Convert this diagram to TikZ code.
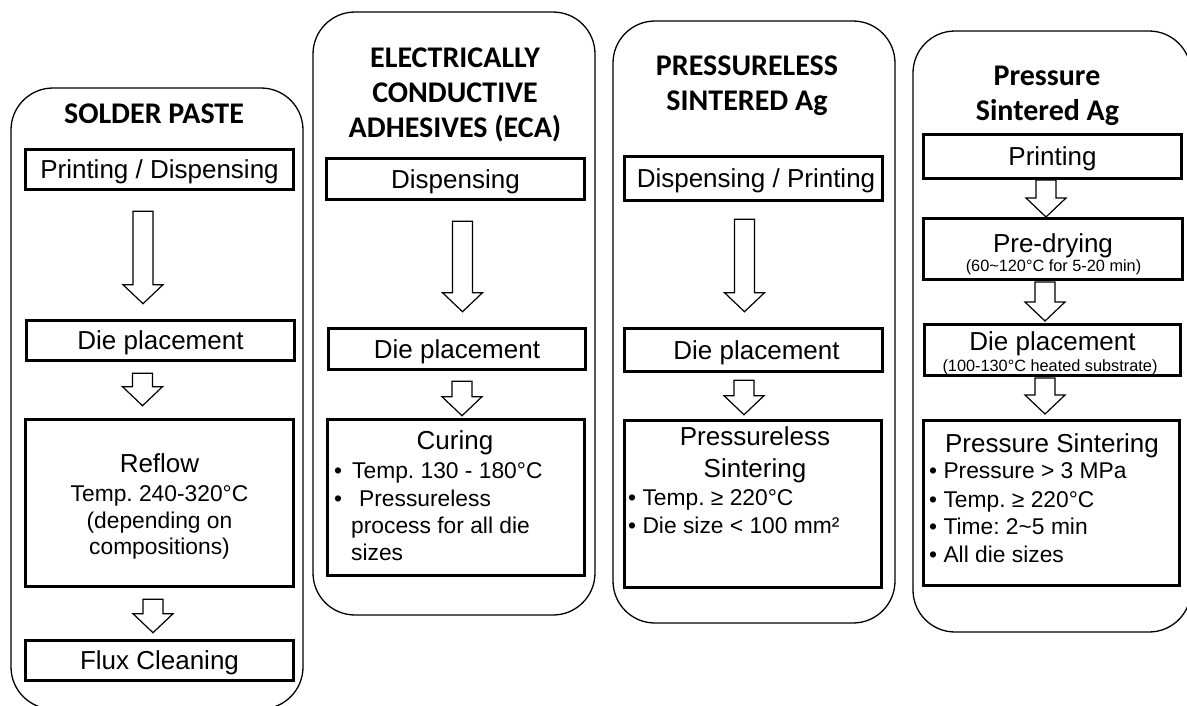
\documentclass[tikz,border=0pt]{standalone}
\usepackage{fontspec}
\setmainfont{Liberation Sans}
\newfontfamily\titlefont{Carlito}
\usetikzlibrary{calc}
\frenchspacing
\newcommand\fmain{\fontsize{26pt}{30pt}\selectfont}
\newcommand\fsub{\fontsize{22.8pt}{27pt}\selectfont}
\newcommand\fsmall{\fontsize{16.3pt}{19pt}\selectfont}
\newcommand\ftitle{\titlefont\bfseries\fontsize{30pt}{35pt}\selectfont}
\newcommand\blockarr[5]{%
  \draw[barrow] let \p1=(#1.south), \p2=(#2.north) in
  (#3pt-10pt,\y1-#4pt) -- (#3pt+10pt,\y1-#4pt) -- (#3pt+10pt,\y2+#5pt+19pt)
  -- (#3pt+20pt,\y2+#5pt+19pt) -- (#3pt,\y2+#5pt) -- (#3pt-20pt,\y2+#5pt+19pt)
  -- (#3pt-10pt,\y2+#5pt+19pt) -- cycle;}
\tikzset{
  outer/.style={draw=black, line width=1.3pt, rounded corners=42pt},
  stepbox/.style={draw=black, line width=2.6pt, inner sep=0pt, text height=18.6pt, text depth=0pt, font=\fmain},
  txt/.style={inner sep=0pt, anchor=base},
  ltxt/.style={inner sep=0pt, anchor=base west},
  barrow/.style={draw=black, line width=1.2pt, fill=white, line join=miter},
}
\begin{document}
\begin{tikzpicture}[x=1pt,y=-1pt]
\useasboundingbox (0,0) rectangle (1187,705);
\clip (0,0) rectangle (1187,705);
% outer frames
\draw[outer] (11,88) rectangle (303,709);
\draw[outer] (313,12) rectangle (595,615);
\draw[outer] (613,21) rectangle (895,623);
\draw[outer] (913,31) rectangle (1191,632);

% ---------- Column 1 ----------
\node[txt, font=\ftitle] (t1) at (154,123) {SOLDER PASTE};
\node[stepbox, minimum width=268.4pt, minimum height=40.4pt] (c1b1) at (159.5,169.5) {Printing / Dispensing};
\node[stepbox, minimum width=268.4pt, minimum height=40.4pt] (c1b2) at (160.5,340.5) {Die placement};
\node[stepbox, minimum width=268.4pt, minimum height=167.4pt] (c1b3) at (159.5,503) {};
\node[txt, font=\fmain] (c1r1) at (159.5,472) {Reflow};
\node[txt, font=\fsub] (c1r2) at (159.5,501) {Temp. 240-320°C};
\node[txt, font=\fsub] (c1r3) at (159.5,528) {(depending on};
\node[txt, font=\fsub] (c1r4) at (159.5,554) {compositions)};
\node[stepbox, minimum width=268.4pt, minimum height=40.4pt] (c1b4) at (159.5,660.5) {Flux Cleaning};
\blockarr{c1b1}{c1b2}{143}{20.3}{15.3}
\blockarr{c1b2}{c1b3}{142.5}{11.3}{12.3}
\blockarr{c1b3}{c1b4}{153}{11.3}{6.3}

% ---------- Column 2 ----------
\node[txt, font=\ftitle] (t2a) at (455,67) {ELECTRICALLY};
\node[txt, font=\ftitle] (t2b) at (455,102) {CONDUCTIVE};
\node[txt, font=\ftitle] (t2c) at (455,137) {ADHESIVES (ECA)};
\node[stepbox, minimum width=258.4pt, minimum height=41.4pt] (c2b1) at (455.5,179) {Dispensing};
\node[stepbox, minimum width=257.4pt, minimum height=41.4pt] (c2b2) at (457,349) {Die placement};
\node[stepbox, minimum width=257.4pt, minimum height=156.4pt] (c2b3) at (456,497.5) {};
\node[txt, font=\fmain] (c2c1) at (455,449) {Curing};
\node[ltxt, font=\fsub] (c2c2) at (334,478) {•\hspace{10pt}Temp. 130 - 180°C};
\node[ltxt, font=\fsub] (c2c3) at (334,506) {•\hspace{17pt}Pressureless};
\node[ltxt, font=\fsub] (c2c4) at (351,533) {process for all die};
\node[ltxt, font=\fsub] (c2c5) at (351,560) {sizes};
\blockarr{c2b1}{c2b2}{462.5}{20.3}{15.3}
\blockarr{c2b2}{c2b3}{462}{10.3}{2.3}

% ---------- Column 3 ----------
\node[txt, font=\ftitle] (t3a) at (747,75) {PRESSURELESS};
\node[txt, font=\ftitle] (t3b) at (747,110) {SINTERED Ag};
\node[stepbox, minimum width=258.4pt, minimum height=44.4pt] (c3b1) at (753.5,178.5) {\hspace{5pt}Dispensing / Printing};
\node[stepbox, minimum width=258.4pt, minimum height=43.4pt] (c3b2) at (753.5,350) {\hspace{6pt}Die placement};
\node[stepbox, minimum width=257.4pt, minimum height=167.4pt] (c3b3) at (753,504) {};
\node[txt, font=\fmain] (c3s1) at (755,445) {Pressureless};
\node[txt, font=\fmain] (c3s2) at (755,477) {Sintering};
\node[ltxt, font=\fsub] (c3s3) at (628,505) {• Temp. ≥ 220°C};
\node[ltxt, font=\fsub] (c3s4) at (628,533) {• Die size < 100 mm²};
\blockarr{c3b1}{c3b2}{744.5}{17.3}{15.3}
\blockarr{c3b2}{c3b3}{744}{7.3}{4.3}

% ---------- Column 4 ----------
\node[txt, font=\ftitle] (t4a) at (1047,85) {Pressure};
\node[txt, font=\ftitle] (t4b) at (1047.5,120) {Sintered Ag};
\node[stepbox, minimum width=258.4pt, minimum height=44.4pt] (c4b1) at (1052.5,156.5) {Printing};
\node[stepbox, minimum width=259.4pt, minimum height=61.4pt] (c4b2) at (1053,249) {};
\node[txt, font=\fmain] (c4p1) at (1053,252) {Pre-drying};
\node[txt, font=\fsmall] (c4p2) at (1053.5,271) {(60\textasciitilde 120°C for 5-20 min)};
\node[stepbox, minimum width=256.4pt, minimum height=51.4pt] (c4b3) at (1052.5,350) {};
\node[txt, font=\fmain] (c4d1) at (1052.5,350) {Die placement};
\node[txt, font=\fsmall] (c4d2) at (1050,371) {(100-130°C heated substrate)};
\node[stepbox, minimum width=256.4pt, minimum height=165.4pt] (c4b4) at (1051.5,503) {};
\node[txt, font=\fmain] (c4s1) at (1052,452) {Pressure Sintering};
\node[ltxt, font=\fsub] (c4s2) at (929,478) {• Pressure > 3 MPa};
\node[ltxt, font=\fsub] (c4s3) at (929,507) {• Temp. ≥ 220°C};
\node[ltxt, font=\fsub] (c4s4) at (929,534) {• Time: 2\textasciitilde 5 min};
\node[ltxt, font=\fsub] (c4s5) at (929,562) {• All die sizes};
\blockarr{c4b1}{c4b2}{1046}{0}{0}
\blockarr{c4b2}{c4b3}{1045}{1}{2}
\blockarr{c4b3}{c4b4}{1045}{1}{5}
\end{tikzpicture}
\end{document}
